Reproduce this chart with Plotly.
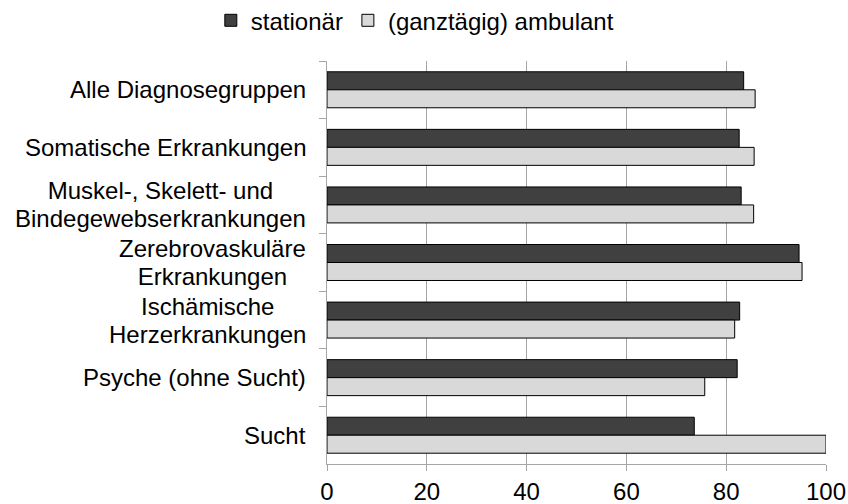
import plotly.graph_objects as go

# Kategorien von oben nach unten
categories = [
    "Alle Diagnosegruppen",
    "Somatische Erkrankungen",
    "Muskel-, Skelett- und<br>Bindegewebserkrankungen",
    "Zerebrovaskuläre<br>Erkrankungen",
    "Ischämische<br>Herzerkrankungen",
    "Psyche (ohne Sucht)",
    "Sucht",
]
stationaer = [83.5, 82.6, 83.0, 94.6, 82.7, 82.2, 73.6]
ambulant = [85.8, 85.6, 85.5, 95.2, 81.7, 75.7, 100.0]
x_ticks = [0, 20, 40, 60, 80, 100]

font_family = "Liberation Sans, Arial, sans-serif"
axis_gray = "#a6a6a6"

fig = go.Figure()

fig.add_trace(go.Bar(
    y=categories,
    x=stationaer,
    orientation="h",
    name="stationär",
    marker=dict(color="#404040", line=dict(color="#000000", width=1)),
))
fig.add_trace(go.Bar(
    y=categories,
    x=ambulant,
    orientation="h",
    name="(ganztägig) ambulant",
    marker=dict(color="#d9d9d9", line=dict(color="#000000", width=1)),
))

# Kategorie-Beschriftungen als zentrierte mehrzeilige Texte
# (kleinere Basisschrift für engeren Zeilenabstand, Text selbst in 24px)
for cat in categories:
    lines = cat.split("<br>")
    label = "<br>".join(f"<span style='font-size:24px'>{l}</span>" for l in lines)
    fig.add_annotation(
        x=0, xref="paper",
        y=cat, yref="y",
        text=label,
        showarrow=False,
        xanchor="right",
        yanchor="middle",
        align="center",
        xshift=-19,
        font=dict(size=21.5, color="#000000", family=font_family),
    )

fig.update_layout(
    width=848,
    height=504,
    plot_bgcolor="white",
    paper_bgcolor="white",
    barmode="group",
    bargap=0.375,
    bargroupgap=0,
    margin=dict(l=327, r=22, t=61, b=40, autoexpand=False),
    font=dict(family=font_family, size=24, color="#000000"),
    legend=dict(
        orientation="h",
        x=0.176,
        xanchor="center",
        y=1.10,
        yanchor="middle",
        font=dict(size=24),
        itemwidth=30,
        traceorder="normal",
    ),
    xaxis=dict(
        range=[0, 100],
        tickvals=x_ticks,
        showgrid=True,
        gridcolor=axis_gray,
        gridwidth=1,
        zeroline=False,
        showline=True,
        linecolor=axis_gray,
        linewidth=1,
        ticks="outside",
        ticklen=6,
        tickcolor=axis_gray,
        tickfont=dict(size=24),
        automargin=False,
    ),
    yaxis=dict(
        autorange="reversed",
        showgrid=False,
        showline=True,
        linecolor=axis_gray,
        linewidth=1,
        ticks="outside",
        ticklen=7,
        tickcolor=axis_gray,
        tickson="boundaries",
        showticklabels=False,
        automargin=False,
    ),
)

# Seitenrand des Browsers entfernen, damit die Abbildung bündig sitzt
fig.write_html(
    "out.html",
    config={"displayModeBar": False},
    post_script="document.body.style.margin='0';",
)
